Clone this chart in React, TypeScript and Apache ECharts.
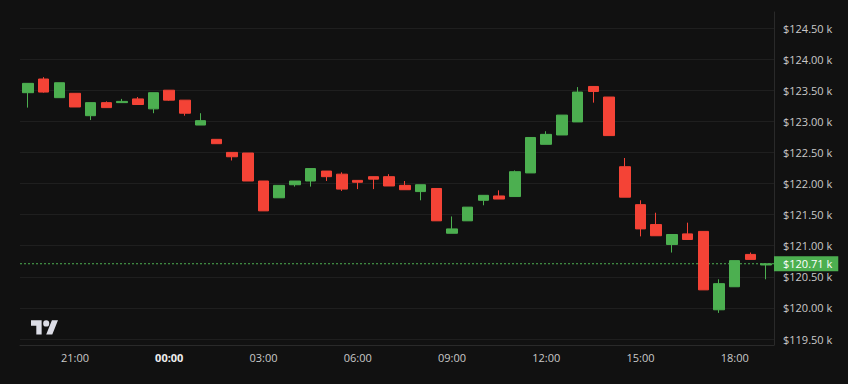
import React, { useEffect, useRef } from "react";
import * as echarts from "echarts";

const times = [
  "19:30", "20:00", "20:30", "21:00", "21:30", "22:00", "22:30", "23:00", "23:30",
  "00:00", "00:30", "01:00", "01:30", "02:00", "02:30", "03:00", "03:30", "04:00",
  "04:30", "05:00", "05:30", "06:00", "06:30", "07:00", "07:30", "08:00", "08:30",
  "09:00", "09:30", "10:00", "10:30", "11:00", "11:30", "12:00", "12:30", "13:00",
  "13:30", "14:00", "14:30", "15:00", "15:30", "16:00", "16:30", "17:00", "17:30",
  "18:00", "18:30", "19:00",
];

const opens = [
  123.46, 123.68, 123.38, 123.45, 123.09, 123.3, 123.3, 123.36, 123.2,
  123.5, 123.34, 122.94, 122.71, 122.5, 122.49, 122.04, 121.77, 121.98,
  122.04, 122.2, 122.15, 122.05, 122.11, 122.11, 121.97, 121.87, 121.92,
  121.2, 121.4, 121.73, 121.8, 121.79, 122.17, 122.63, 122.78, 122.99,
  123.56, 123.39, 122.27, 121.66, 121.34, 121.02, 121.19, 121.23, 119.97,
  120.34, 120.86, 120.69,
];
const closes = [
  123.61, 123.47, 123.62, 123.23, 123.3, 123.22, 123.32, 123.27, 123.46,
  123.34, 123.13, 123.01, 122.64, 122.43, 122.04, 121.56, 121.97, 122.04,
  122.24, 122.11, 121.91, 122.02, 122.07, 121.96, 121.9, 121.98, 121.4,
  121.27, 121.62, 121.81, 121.75, 122.19, 122.74, 122.79, 123.1, 123.47,
  123.48, 122.77, 121.78, 121.27, 121.16, 121.18, 121.1, 120.29, 120.39,
  120.76, 120.78, 120.71,
];
const lows = [
  123.22, 123.46, 123.38, 123.23, 123.02, 123.22, 123.3, 123.27, 123.13,
  123.33, 123.09, 122.94, 122.64, 122.37, 122.04, 121.56, 121.77, 121.95,
  121.95, 122.04, 121.88, 121.91, 121.91, 121.96, 121.9, 121.73, 121.4,
  121.2, 121.4, 121.65, 121.75, 121.79, 122.17, 122.63, 122.78, 122.99,
  123.3, 122.77, 121.78, 121.15, 121.16, 120.89, 121.1, 120.29, 119.92,
  120.34, 120.78, 120.46,
];
const highs = [
  123.61, 123.71, 123.62, 123.45, 123.3, 123.32, 123.36, 123.39, 123.46,
  123.5, 123.34, 123.13, 122.71, 122.5, 122.49, 122.04, 121.97, 122.04,
  122.24, 122.2, 122.18, 122.05, 122.11, 122.15, 122.04, 121.98, 121.92,
  121.47, 121.62, 121.81, 121.89, 122.21, 122.74, 122.84, 123.1, 123.55,
  123.56, 123.39, 122.41, 121.73, 121.53, 121.18, 121.37, 121.23, 120.46,
  120.76, 120.89, 120.71,
];

const tickMin = 119.5;
const tickMax = 124.5;
const tickStep = 0.5;
const lastPrice = 120.71;

const UP = "#4caf50";
const DOWN = "#f44336";
const BG = "#111111";
const GRID_LINE = "#1f1f1f";
const AXIS_LINE = "#2a2a2a";
const TEXT = "#c9c9c9";
const FONT = "'Open Sans', 'Noto Sans', sans-serif";

const LOGO_D =
  "M14 22H7V11H0V4h14v18zM28 22h-8l7.5-18h8L28 22zM24 8a4 4 0 1 1-8 0a4 4 0 1 1 8 0z";

let logoRegistered = false;

export default function App() {
  const ref = useRef<HTMLDivElement>(null);

  useEffect(() => {
    document.body.style.margin = "0";
    document.body.style.background = BG;
    if (!logoRegistered) {
      echarts.graphic.registerShape("tvlogo", echarts.graphic.extendPath(LOGO_D as any, {}) as any);
      logoRegistered = true;
    }
    const chart = echarts.init(ref.current!, null, { renderer: "svg" });

    // plot box (grid 0) vs tick box (grid 1), same pixel scale
    const plotTop = 12;
    const plotBottomPx = 345;
    const tickTop = 28;
    const tickBottomPx = 339;
    const pxPerUnit = (tickBottomPx - tickTop) / (tickMax - tickMin);
    const plotMax = tickMax + (tickTop - plotTop) / pxPerUnit;
    const plotMin = plotMax - (plotBottomPx - plotTop) / pxPerUnit;

    const candles = times.map((_, i) => [opens[i], closes[i], lows[i], highs[i]]);
    const lastLineData = [
      [0, lastPrice],
      [1, lastPrice],
    ];

    chart.setOption({
      animation: false,
      backgroundColor: BG,
      textStyle: { fontFamily: FONT },
      grid: [
        { left: 20, right: 74, top: plotTop, bottom: 384 - plotBottomPx },
        { left: 20, right: 74, top: tickTop, bottom: 384 - tickBottomPx },
      ],
      xAxis: [
        {
          type: "category",
          gridIndex: 0,
          data: times,
          boundaryGap: true,
          axisLine: { show: true, onZero: false, lineStyle: { color: AXIS_LINE } },
          axisTick: { show: false },
          splitLine: { show: false },
          axisLabel: {
            color: TEXT,
            fontSize: 11,
            fontFamily: FONT,
            margin: 7,
            interval: (_idx: number, v: string) =>
              v.endsWith(":00") && parseInt(v, 10) % 3 === 0,
            formatter: (v: string) => (v === "00:00" ? "{b|" + v + "}" : v),
            rich: {
              b: { fontWeight: "bold", color: "#eeeeee", fontSize: 11, fontFamily: FONT },
            },
          },
        },
        { type: "category", gridIndex: 1, data: times, show: false },
        {
          type: "value",
          gridIndex: 0,
          min: 0,
          max: 1,
          show: false,
          axisLine: { show: false, onZero: false },
        },
      ],
      yAxis: [
        {
          type: "value",
          gridIndex: 0,
          position: "right",
          min: plotMin,
          max: plotMax,
          axisLine: { show: true, onZero: false, lineStyle: { color: AXIS_LINE } },
          axisTick: { show: false },
          axisLabel: { show: false },
          splitLine: { show: false },
        },
        {
          type: "value",
          gridIndex: 1,
          position: "right",
          min: tickMin,
          max: tickMax,
          interval: tickStep,
          axisLine: { show: false, onZero: false },
          axisTick: { show: false },
          splitLine: { show: true, lineStyle: { color: GRID_LINE, width: 1 } },
          axisLabel: {
            color: TEXT,
            fontSize: 11,
            fontFamily: FONT,
            margin: 9,
            formatter: (v: number) => "$" + v.toFixed(2) + " k",
          },
        },
      ],
      series: [
        {
          type: "line",
          name: "last",
          xAxisIndex: 2,
          yAxisIndex: 0,
          data: lastLineData,
          showSymbol: false,
          symbol: "none",
          silent: true,
          z: 1,
          itemStyle: { color: UP },
          lineStyle: { color: UP, type: [2, 2], width: 1, opacity: 1 },
          endLabel: {
            show: true,
            distance: 0,
            formatter: () => "$" + lastPrice.toFixed(2) + " k",
            color: "#ffffff",
            backgroundColor: UP,
            fontSize: 11,
            fontFamily: FONT,
            lineHeight: 13,
            padding: [1, 6, 1, 9],
          },
        },
        {
          type: "candlestick",
          xAxisIndex: 0,
          yAxisIndex: 0,
          data: candles,
          barWidth: 11,
          z: 2,
          itemStyle: {
            color: UP,
            color0: DOWN,
            borderColor: UP,
            borderColor0: DOWN,
            borderWidth: 1,
          },
        },
      ],
      graphic: [
        {
          type: "tvlogo",
          x: 31,
          y: 317,
          scaleX: 0.76,
          scaleY: 0.8,
          style: { fill: "#dcdde6" },
        },
      ],
    });

    return () => chart.dispose();
  }, []);

  return <div ref={ref} style={{ width: 848, height: 384 }} />;
}
